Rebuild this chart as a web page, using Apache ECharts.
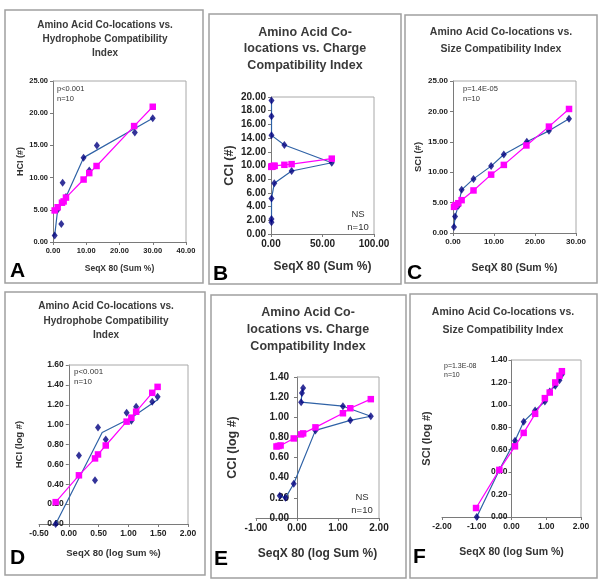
<!DOCTYPE html>
<html><head><meta charset="utf-8">
<script src="https://cdn.jsdelivr.net/npm/echarts@6/dist/echarts.min.js"></script>
<style>html,body{margin:0;padding:0;background:#fff}#c{width:600px;height:581px}</style>
</head><body><div id="c"></div>
<script>
// ---------- data ----------
// A: HCI (#) vs SeqX 80 (Sum %)
const aBlue  = [[0.5,1.0],[1.4,5.0],[2.5,2.8],[2.9,9.2],[3.9,7.0],[9.2,13.1],[10.9,11.1],[13.2,15.0],[24.6,17.0],[30.0,19.2]];
const aBlueLine = [[0.5,1.0],[1.4,5.0],[3.9,7.0],[9.2,13.1],[30.0,19.2]];
const aPink  = [[0.5,4.9],[1.4,5.4],[2.7,6.1],[3.2,6.3],[3.9,6.9],[9.2,9.7],[10.9,10.7],[13.1,11.8],[24.4,18.0],[30.0,21.0]];
// B: CCI (#) vs SeqX 80 (Sum %)
const bBlue  = [[0.5,19.5],[0.5,17.2],[0.5,14.4],[13.0,13.0],[59.0,10.4],[20.0,9.2],[3.2,7.4],[0.5,5.2],[0.5,2.2],[0.5,1.7]];
const bPink  = [[0.3,9.8],[0.6,9.85],[1.0,9.85],[1.5,9.9],[2.0,9.9],[3.0,9.95],[3.5,9.95],[13.0,10.1],[20.0,10.2],[59.0,11.0]];
// C: SCI (#) vs SeqX 80 (Sum %)
const cBlue  = [[0.25,1.0],[0.5,2.7],[1.3,4.5],[2.1,7.1],[5.0,8.9],[9.3,11.0],[12.4,12.9],[18.0,15.0],[23.4,16.8],[28.3,18.8]];
const cPink  = [[0.25,4.3],[0.6,4.6],[1.3,4.9],[2.1,5.4],[5.0,7.0],[9.3,9.6],[12.4,11.2],[17.9,14.4],[23.4,17.5],[28.3,20.4]];
// D: HCI (log #) vs SeqX 80 (log Sum %)
const dBlue  = [[-0.22,0.0],[0.17,0.69],[0.44,0.44],[0.49,0.97],[0.62,0.85],[0.97,1.12],[1.05,1.04],[1.13,1.18],[1.40,1.23],[1.49,1.28]];
const dBlueLine = [[-0.22,0.0],[0.56,0.92],[1.05,1.07],[1.49,1.25]];
const dPink  = [[-0.22,0.22],[0.17,0.49],[0.44,0.66],[0.49,0.70],[0.62,0.79],[0.97,1.03],[1.05,1.07],[1.13,1.13],[1.40,1.32],[1.49,1.38]];
// E: CCI (log #) vs SeqX 80 (log Sum %)
const eBlue  = [[0.15,1.29],[0.12,1.24],[0.10,1.15],[1.12,1.11],[1.80,1.01],[1.30,0.97],[0.45,0.87],[-0.08,0.34],[-0.28,0.20],[-0.42,0.22]];
const ePink  = [[-0.50,0.71],[-0.45,0.715],[-0.40,0.72],[-0.08,0.79],[0.10,0.83],[0.15,0.84],[0.45,0.90],[1.12,1.04],[1.30,1.09],[1.80,1.18]];
// F: SCI (log #) vs SeqX 80 (log Sum %)
const fBlue  = [[-1.00,0.0],[-0.35,0.42],[0.10,0.68],[0.35,0.85],[0.68,0.95],[0.96,1.03],[1.10,1.12],[1.26,1.17],[1.38,1.22],[1.45,1.27]];
const fPink  = [[-1.02,0.08],[-0.35,0.42],[0.10,0.63],[0.35,0.75],[0.68,0.92],[0.96,1.06],[1.10,1.11],[1.26,1.20],[1.38,1.26],[1.45,1.30]];

// ---------- layout ----------
const FONT = '"Liberation Sans", Arial, sans-serif';
const BLUE_M = '#000080', BLUE_L = '#2f62a6', PINK = '#ff00ff', AX = '#7a7a7a';

const panels = [
 {letter:'A', frame:[5,10,198,273], grid:[53,81,133,161], x:[0,40,10], y:[0,25,5], lab:7.5, lm:5,
  title:'Amino Acid Co-locations vs.\nHydrophobe Compatibility\nIndex', tx:105, ty:39, tf:10, tl:14,
  xName:'SeqX 80 (Sum %)', xf:8.5, xg:22, yName:'HCI (#)', yf:9, yg:27,
  ann:'p<0.001\nn=10', ax:57, ay:94, af:7.5, ala:'left',
  blue:aBlue, blueLine:aBlueLine, pink:aPink, lx:10, ly:271},
 {letter:'B', frame:[209,14,192,270], grid:[271,97,103,137], x:[0,100,50], y:[0,20,2], lab:10, lm:5,
  title:'Amino Acid Co-\nlocations vs. Charge\nCompatibility Index', tx:305, ty:49, tf:12.5, tl:16.5,
  xName:'SeqX 80 (Sum %)', xf:12, xg:27, yName:'CCI (#)', yf:12.5, yg:35,
  ann:'NS\nn=10', ax:358, ay:221, af:9.5, ala:'center',
  blue:bBlue, blueLine:bBlue, pink:bPink, lx:213, ly:274},
 {letter:'C', frame:[405,15,192,268], grid:[453,81,123,152], x:[0,30,10], y:[0,25,5], lab:8, lm:5,
  title:'Amino Acid Co-locations vs.\nSize Compatibility Index', tx:501, ty:41, tf:10.5, tl:17,
  xName:'SeqX 80 (Sum %)', xf:10.5, xg:30, yName:'SCI (#)', yf:9.5, yg:30,
  ann:'p=1.4E-05\nn=10', ax:463, ay:94, af:7.5, ala:'left',
  blue:cBlue, blueLine:cBlue, pink:cPink, lx:407, ly:273},
 {letter:'D', frame:[5,292,200,283], grid:[39,365,149,159], x:[-0.5,2,0.5], y:[0,1.6,0.2], lab:8.5, lm:5,
  title:'Amino Acid Co-locations vs.\nHydrophobe Compatibility\nIndex', tx:106, ty:321, tf:10, tl:14.5,
  xName:'SeqX 80 (log Sum %)', xf:9.5, xg:24, yName:'HCI (log #)', yf:9.5, yg:44,
  ann:'p<0.001\nn=10', ax:74, ay:377, af:8, ala:'left',
  blue:dBlue, blueLine:dBlueLine, pink:dPink, lx:10, ly:558},
 {letter:'E', frame:[211,295,195,283], grid:[256,377,123,141], x:[-1,2,1], y:[0,1.4,0.2], lab:10, lm:8,
  title:'Amino Acid Co-\nlocations vs. Charge\nCompatibility Index', tx:308, ty:330, tf:12.5, tl:17,
  xName:'SeqX 80 (log Sum %)', xf:12, xg:30, yName:'CCI (log #)', yf:12.5, yg:58,
  ann:'NS\nn=10', ax:362, ay:504, af:9.5, ala:'center',
  blue:eBlue, blueLine:eBlue, pink:ePink, lx:214, ly:559},
 {letter:'F', frame:[410,294,187,284], grid:[442,360,139,157], x:[-2,2,1], y:[0,1.4,0.2], lab:8.5, lm:4,
  title:'Amino Acid Co-locations vs.\nSize Compatibility Index', tx:503, ty:321, tf:10.5, tl:18,
  xName:'SeqX 80 (log Sum %)', xf:10.5, xg:30, yName:'SCI (log #)', yf:11, yg:79,
  ann:'p=1.3E-08\nn=10', ax:444, ay:371, af:7, ala:'left',
  blue:fBlue, blueLine:fBlue, pink:fPink, lx:413, ly:557}
];

const option = {backgroundColor:'#fff', animation:false, grid:[], xAxis:[], yAxis:[], series:[], graphic:[]};
const fmt = v => v.toFixed(2);

panels.forEach((p, i) => {
  option.graphic.push({type:'rect', shape:{x:p.frame[0], y:p.frame[1], width:p.frame[2], height:p.frame[3]},
    style:{fill:'none', stroke:'#a0a0a0', lineWidth:1.5}, silent:true});
  option.graphic.push({type:'text', x:p.tx, y:p.ty, style:{text:p.title, textAlign:'center', textVerticalAlign:'middle',
    font:'bold '+p.tf+'px '+FONT, fill:'#3a3a3a', lineHeight:p.tl}, silent:true});
  option.graphic.push({type:'text', x:p.ax, y:p.ay, style:{text:p.ann, textAlign:p.ala, textVerticalAlign:'middle',
    font:p.af+'px '+FONT, fill:'#333', lineHeight:p.af*1.3}, silent:true});
  option.graphic.push({type:'text', x:p.lx, y:p.ly, style:{text:p.letter, textAlign:'left', textVerticalAlign:'middle',
    font:'bold 21px '+FONT, fill:'#000'}, silent:true});

  // y axis sits at x = 0; shift the whole axis (line, ticks, labels, name) there
  const yOffset = p.x[0] < 0 ? -p.grid[2] * (0 - p.x[0]) / (p.x[1] - p.x[0]) : 0;

  option.grid.push({left:p.grid[0], top:p.grid[1], width:p.grid[2], height:p.grid[3], containLabel:false});
  option.xAxis.push({gridIndex:i, type:'value', min:p.x[0], max:p.x[1], interval:p.x[2],
    axisLine:{show:true, onZero:false, lineStyle:{color:AX, width:1}}, axisTick:{show:true, length:3, lineStyle:{color:AX}},
    splitLine:{show:false},
    axisLabel:{formatter:fmt, fontSize:p.lab, fontWeight:'bold', color:'#222', fontFamily:FONT, margin:5, hideOverlap:false},
    name:p.xName, nameLocation:'middle', nameGap:p.xg,
    nameTextStyle:{fontSize:p.xf, fontWeight:'bold', color:'#333', fontFamily:FONT}});
  option.yAxis.push({gridIndex:i, type:'value', min:p.y[0], max:p.y[1], interval:p.y[2], offset:yOffset,
    axisLine:{show:true, onZero:false, lineStyle:{color:AX, width:1}}, axisTick:{show:true, length:3, lineStyle:{color:AX}},
    splitLine:{show:false},
    axisLabel:{formatter:fmt, fontSize:p.lab, fontWeight:'bold', color:'#222', fontFamily:FONT, margin:p.lm, hideOverlap:false},
    name:p.yName, nameLocation:'middle', nameGap:p.yg, nameRotate:90,
    nameTextStyle:{fontSize:p.yf, fontWeight:'bold', color:'#333', fontFamily:FONT}});

  const x0 = Math.max(p.x[0], 0);
  option.series.push({type:'line', xAxisIndex:i, yAxisIndex:i, silent:true, symbol:'none', clip:false,
    lineStyle:{color:'#a8a8a8', width:1}, z:1,
    data:[[x0,p.y[1]],[p.x[1],p.y[1]],[p.x[1],p.y[0]]]});
  option.series.push({type:'line', xAxisIndex:i, yAxisIndex:i, symbol:'none', clip:false,
    lineStyle:{color:BLUE_L, width:1.2}, z:2, data:p.blueLine});
  option.series.push({type:'scatter', xAxisIndex:i, yAxisIndex:i, symbol:'diamond', symbolSize:[6,8], clip:false,
    itemStyle:{color:BLUE_M}, z:3, data:p.blue});
  option.series.push({type:'line', xAxisIndex:i, yAxisIndex:i, symbol:'rect', symbolSize:6.5, showAllSymbol:true, clip:false,
    lineStyle:{color:PINK, width:1.2}, itemStyle:{color:PINK}, z:4, data:p.pink});
});

const chart = echarts.init(document.getElementById('c'), null, {renderer:'canvas'});
chart.setOption(option);
</script></body></html>
